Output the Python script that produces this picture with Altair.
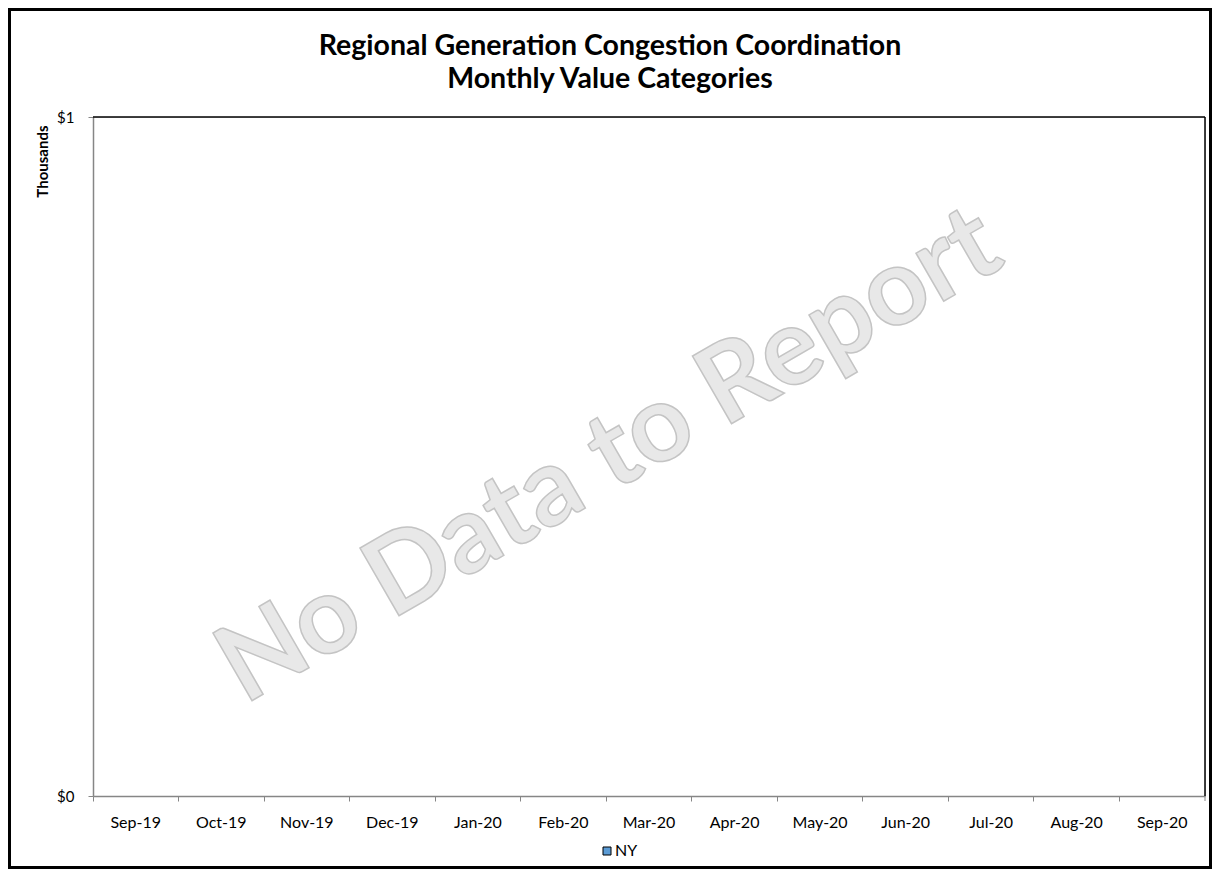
import altair as alt
import pandas as pd

# ---- data ----
months = ["Sep-19", "Oct-19", "Nov-19", "Dec-19", "Jan-20", "Feb-20", "Mar-20",
          "Apr-20", "May-20", "Jun-20", "Jul-20", "Aug-20", "Sep-20"]
ny_values = [0, 0, 0, 0, 0, 0, 0, 0, 0, 0, 0, 0, 0]
series_name = ["NY"] * len(months)
y_domain = [0, 1]
y_ticks = [0, 1]
title_line1 = ["Regional Generation Congestion Coordination"]
title_line2 = ["Monthly Value Categories"]
y_title = "Thousands"
watermark = ["No Data to Report"]

df = pd.DataFrame({"month": months, "value": ny_values, "series": series_name})

FONT = "Lato"
PLOT_W, PLOT_H = 1112, 679
PAD_L, PAD_T = 85, 109
TOTAL_W, TOTAL_H = 1204, 861

x_enc = alt.X("month:N", sort=months, title=None,
              scale=alt.Scale(paddingInner=0, paddingOuter=0),
              axis=alt.Axis(bandPosition=0, labelAngle=0,
                            labelFont=FONT, labelFontSize=16, labelColor="black",
                            labelPadding=13, tickSize=5, tickColor="#868686",
                            domainColor="#868686", domainWidth=1.5, grid=False))
y_enc = alt.Y("value:Q", title=y_title,
              scale=alt.Scale(domain=y_domain, nice=False),
              axis=alt.Axis(values=y_ticks, format="$,.0f", labelFont=FONT,
                            labelFontSize=15, labelColor="black", labelPadding=14,
                            tickSize=5, tickColor="#868686", domainColor="#868686",
                            domainWidth=1.5, grid=False,
                            titleFont=FONT, titleFontSize=15, titleFontWeight="bold",
                            titleColor="black", titleAngle=270, titleAnchor="end",
                            titleAlign="right", titleBaseline="middle",
                            titleX=-51, titleY=8))

bars = alt.Chart(df).mark_bar(strokeWidth=0).encode(
    x=x_enc,
    y=y_enc,
    color=alt.Color("series:N", title=None,
                    scale=alt.Scale(domain=["NY"], range=["#5B9BD5"]),
                    legend=alt.Legend(orient="none", legendX=506, legendY=726,
                                      symbolType="square", symbolSize=64,
                                      symbolStrokeColor="black", symbolStrokeWidth=1,
                                      labelFont=FONT, labelFontSize=16,
                                      labelColor="black", labelOffset=0)),
)

wm = alt.Chart(pd.DataFrame({"t": watermark})).mark_text(
    font=FONT, fontSize=108, fontWeight="bold", angle=330,
    fill="#e8e8e8", stroke="#c4c4c4", strokeWidth=1.5,
    align="center", baseline="middle",
).encode(text="t:N", x=alt.value(517), y=alt.value(340))

t1 = alt.Chart(pd.DataFrame({"t": title_line1})).mark_text(
    font=FONT, fontSize=28.5, fontWeight="bold", color="black",
    align="center", baseline="middle",
).encode(text="t:N", x=alt.value(610 - 8 - PAD_L), y=alt.value(46 - 8 - PAD_T))

t2 = alt.Chart(pd.DataFrame({"t": title_line2})).mark_text(
    font=FONT, fontSize=28.5, fontWeight="bold", color="black",
    align="center", baseline="middle",
).encode(text="t:N", x=alt.value(610 - 8 - PAD_L), y=alt.value(79 - 8 - PAD_T))

right_tick = alt.Chart(pd.DataFrame({"t": [0]})).mark_rule(
    color="#868686", strokeWidth=1
).encode(x=alt.value(PLOT_W), y=alt.value(PLOT_H), y2=alt.value(PLOT_H + 5))

top_edge = alt.Chart(pd.DataFrame({"t": [0]})).mark_rule(
    color="black", strokeWidth=1.5
).encode(x=alt.value(0), x2=alt.value(PLOT_W), y=alt.value(0))

right_edge = alt.Chart(pd.DataFrame({"t": [0]})).mark_rule(
    color="black", strokeWidth=1.5
).encode(x=alt.value(PLOT_W), y=alt.value(0), y2=alt.value(PLOT_H))

border = alt.Chart(pd.DataFrame({"t": [0]})).mark_rect(
    fill=None, stroke="black", strokeWidth=3
).encode(x=alt.value(1.5 - PAD_L), x2=alt.value(TOTAL_W - 1.5 - PAD_L),
         y=alt.value(1.5 - PAD_T), y2=alt.value(TOTAL_H - 1.5 - PAD_T))

chart = alt.layer(wm, bars, t1, t2, right_tick, top_edge, right_edge, border).properties(
    width=PLOT_W, height=PLOT_H,
    autosize=alt.AutoSizeParams(type="none"),
    padding={"left": PAD_L, "top": PAD_T, "right": TOTAL_W - PAD_L - PLOT_W,
             "bottom": TOTAL_H - PAD_T - PLOT_H},
).configure_view(stroke=None).configure(background="white")

chart.save("out.html", embed_options={"renderer": "svg", "actions": False})
